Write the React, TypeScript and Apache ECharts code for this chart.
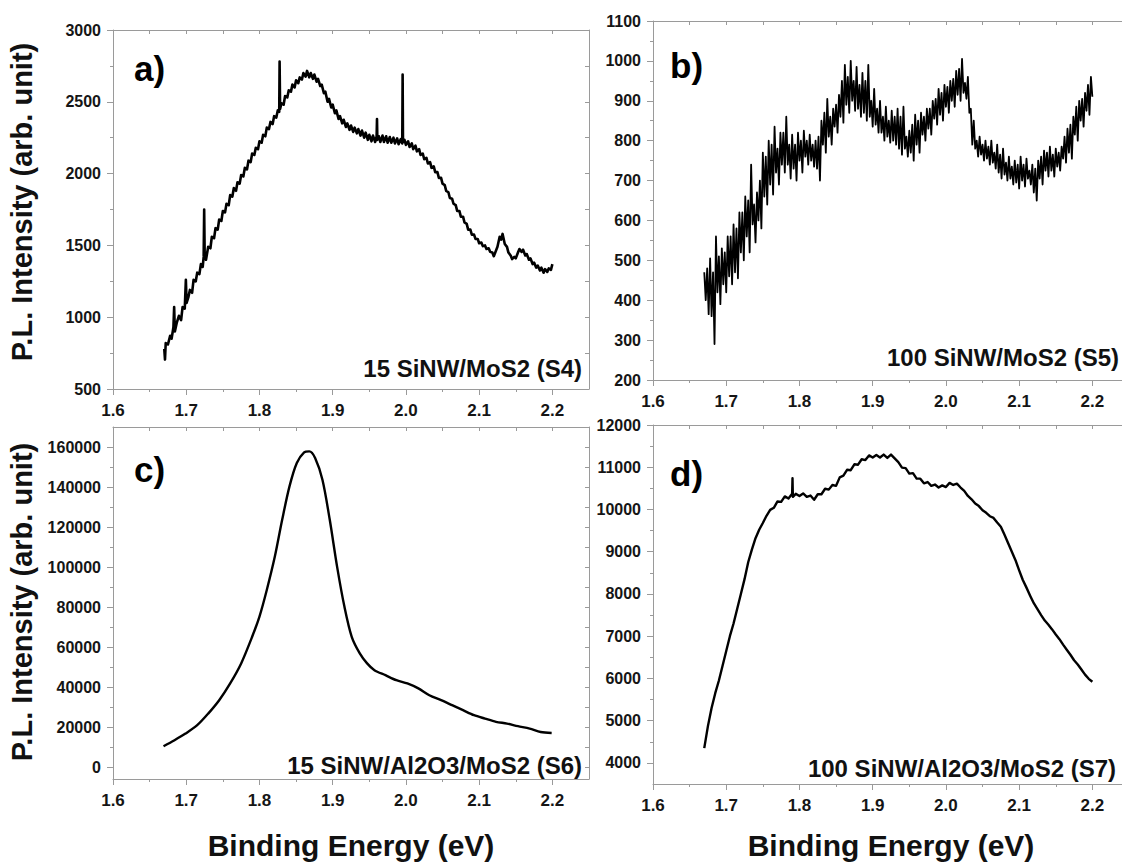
import React, { useEffect, useRef } from "react";
import * as echarts from "echarts";

// ---------- data ----------
const X_MAJOR = [1.6, 1.7, 1.8, 1.9, 2.0, 2.1, 2.2];
const X_MINOR = [1.65, 1.75, 1.85, 1.95, 2.05, 2.15];

const A_MAJOR = [500, 1000, 1500, 2000, 2500, 3000];
const A_MINOR = [750, 1250, 1750, 2250, 2750];
const B_MAJOR = [200, 300, 400, 500, 600, 700, 800, 900, 1000, 1100];
const B_MINOR = [250, 350, 450, 550, 650, 750, 850, 950, 1050];
const C_MAJOR = [0, 20000, 40000, 60000, 80000, 100000, 120000, 140000, 160000];
const C_MINOR = [10000, 30000, 50000, 70000, 90000, 110000, 130000, 150000];
const D_MAJOR = [4000, 5000, 6000, 7000, 8000, 9000, 10000, 11000, 12000];
const D_MINOR = [4500, 5500, 6500, 7500, 8500, 9500, 10500, 11500];

const PANEL_LABELS = ["a)", "b)", "c)", "d)"];
const SAMPLE_NAMES = [
  "15 SiNW/MoS2 (S4)",
  "100 SiNW/MoS2 (S5)",
  "15 SiNW/Al2O3/MoS2 (S6)",
  "100 SiNW/Al2O3/MoS2 (S7)",
];
const Y_TITLE = "P.L. Intensity (arb. unit)";
const X_TITLE = "Binding Energy (eV)";

// a) 15 SiNW/MoS2 (S4)
const SERIES_A: [number, number][] = [
  [1.67, 780], [1.671, 705], [1.672, 820], [1.675, 810], [1.678, 870], [1.68, 850],
  [1.6825, 930], [1.6835, 1070], [1.6845, 900], [1.687, 960], [1.69, 1010],
  [1.693, 980], [1.695, 1070], [1.698, 1060], [1.6995, 1260], [1.7005, 1100],
  [1.703, 1140], [1.705, 1190], [1.708, 1170], [1.71, 1260], [1.713, 1250],
  [1.715, 1310], [1.718, 1300], [1.72, 1370], [1.7225, 1350], [1.7238, 1420],
  [1.7245, 1750], [1.7252, 1430], [1.727, 1400], [1.73, 1490], [1.733, 1480],
  [1.735, 1560], [1.738, 1550], [1.74, 1620], [1.743, 1610], [1.745, 1680],
  [1.748, 1670], [1.75, 1740], [1.753, 1730], [1.755, 1790], [1.758, 1780],
  [1.76, 1850], [1.763, 1840], [1.765, 1900], [1.768, 1880], [1.77, 1940],
  [1.773, 1930], [1.775, 1990], [1.778, 1980], [1.78, 2040], [1.783, 2030],
  [1.785, 2090], [1.788, 2080], [1.79, 2140], [1.793, 2130], [1.795, 2180],
  [1.798, 2170], [1.8, 2225], [1.803, 2215], [1.805, 2270], [1.808, 2260],
  [1.81, 2320], [1.813, 2310], [1.815, 2360], [1.818, 2345], [1.82, 2400],
  [1.823, 2390], [1.825, 2440], [1.827, 2430], [1.8275, 2780], [1.8282, 2450],
  [1.83, 2490], [1.833, 2480], [1.835, 2540], [1.838, 2530], [1.84, 2580],
  [1.843, 2570], [1.845, 2620], [1.848, 2600], [1.85, 2650], [1.853, 2630],
  [1.855, 2670], [1.858, 2655], [1.86, 2700], [1.863, 2675], [1.865, 2715],
  [1.868, 2670], [1.87, 2700], [1.873, 2660], [1.875, 2690], [1.878, 2640],
  [1.88, 2660], [1.883, 2610], [1.885, 2620], [1.888, 2560], [1.89, 2570],
  [1.893, 2500], [1.895, 2520], [1.898, 2460], [1.9, 2480], [1.903, 2420],
  [1.905, 2440], [1.908, 2380], [1.91, 2400], [1.913, 2350], [1.915, 2375],
  [1.918, 2325], [1.92, 2350], [1.923, 2305], [1.925, 2335], [1.928, 2290],
  [1.93, 2320], [1.933, 2280], [1.935, 2310], [1.938, 2265], [1.94, 2300],
  [1.943, 2250], [1.945, 2285], [1.948, 2235], [1.95, 2270], [1.953, 2225],
  [1.955, 2265], [1.958, 2220], [1.96, 2260], [1.9605, 2380], [1.961, 2235],
  [1.963, 2260], [1.965, 2220], [1.968, 2265], [1.97, 2220], [1.973, 2260],
  [1.975, 2215], [1.978, 2255], [1.98, 2215], [1.983, 2250], [1.985, 2210],
  [1.988, 2245], [1.99, 2205], [1.993, 2240], [1.995, 2210], [1.9955, 2690],
  [1.996, 2220], [1.998, 2235], [2.0, 2200], [2.003, 2225], [2.005, 2185],
  [2.008, 2210], [2.01, 2170], [2.013, 2195], [2.015, 2155], [2.018, 2170],
  [2.02, 2130], [2.023, 2140], [2.025, 2100], [2.028, 2110], [2.03, 2070],
  [2.033, 2080], [2.035, 2040], [2.038, 2050], [2.04, 2010], [2.043, 2010],
  [2.045, 1970], [2.048, 1970], [2.05, 1930], [2.053, 1920], [2.055, 1880],
  [2.058, 1870], [2.06, 1830], [2.063, 1825], [2.065, 1790], [2.068, 1780],
  [2.07, 1740], [2.073, 1740], [2.075, 1700], [2.078, 1700], [2.08, 1660],
  [2.083, 1650], [2.085, 1610], [2.088, 1610], [2.09, 1575], [2.093, 1575],
  [2.095, 1545], [2.098, 1545], [2.1, 1515], [2.103, 1520], [2.105, 1495],
  [2.108, 1500], [2.11, 1475], [2.113, 1480], [2.115, 1455], [2.118, 1450],
  [2.12, 1425], [2.122, 1450], [2.125, 1490], [2.128, 1560], [2.13, 1540],
  [2.132, 1580], [2.135, 1510], [2.138, 1490], [2.14, 1450], [2.143, 1430],
  [2.145, 1405], [2.148, 1420], [2.15, 1410], [2.153, 1450], [2.155, 1475],
  [2.158, 1455], [2.16, 1470], [2.163, 1430], [2.165, 1440], [2.168, 1400],
  [2.17, 1410], [2.173, 1370], [2.175, 1380], [2.178, 1345], [2.18, 1360],
  [2.183, 1325], [2.185, 1345], [2.188, 1310], [2.19, 1335], [2.193, 1315],
  [2.195, 1340], [2.198, 1330], [2.2, 1370],
];

// b) 100 SiNW/MoS2 (S5)
const SERIES_B: [number, number][] = [
  [1.67, 470], [1.672, 400], [1.674, 480], [1.676, 365], [1.678, 505], [1.68, 360],
  [1.682, 470], [1.684, 290], [1.686, 560], [1.688, 420], [1.69, 510], [1.692, 390],
  [1.694, 530], [1.696, 440], [1.698, 520], [1.7, 420], [1.702, 560], [1.704, 460],
  [1.706, 560], [1.708, 440], [1.71, 590], [1.712, 470], [1.714, 580], [1.716, 455],
  [1.718, 620], [1.72, 520], [1.722, 620], [1.724, 500], [1.726, 660], [1.728, 560],
  [1.73, 650], [1.732, 520], [1.734, 740], [1.736, 590], [1.738, 640], [1.74, 545],
  [1.742, 670], [1.744, 600], [1.746, 700], [1.748, 580], [1.75, 770], [1.752, 660],
  [1.754, 760], [1.756, 640], [1.758, 800], [1.76, 690], [1.762, 790], [1.764, 665],
  [1.766, 835], [1.768, 720], [1.77, 780], [1.772, 690], [1.774, 820], [1.776, 740],
  [1.778, 820], [1.78, 720], [1.782, 860], [1.784, 740], [1.786, 790], [1.788, 705],
  [1.79, 815], [1.792, 730], [1.794, 790], [1.796, 700], [1.798, 820], [1.8, 750],
  [1.802, 800], [1.804, 720], [1.806, 825], [1.808, 760], [1.81, 800], [1.812, 740],
  [1.814, 815], [1.816, 750], [1.818, 790], [1.82, 735], [1.822, 800], [1.824, 730],
  [1.826, 810], [1.828, 700], [1.83, 850], [1.832, 790], [1.834, 870], [1.836, 770],
  [1.838, 905], [1.84, 810], [1.842, 860], [1.844, 790], [1.846, 880], [1.848, 835],
  [1.85, 890], [1.852, 820], [1.854, 915], [1.856, 860], [1.858, 950], [1.86, 845],
  [1.862, 990], [1.864, 890], [1.866, 960], [1.868, 870], [1.87, 1000], [1.872, 900],
  [1.874, 950], [1.876, 875], [1.878, 985], [1.88, 880], [1.882, 940], [1.884, 860],
  [1.886, 970], [1.888, 870], [1.89, 950], [1.892, 850], [1.894, 990], [1.896, 860],
  [1.898, 900], [1.9, 835], [1.902, 930], [1.904, 840], [1.906, 880], [1.908, 820],
  [1.91, 900], [1.912, 820], [1.914, 860], [1.916, 800], [1.918, 885], [1.92, 810],
  [1.922, 850], [1.924, 795], [1.926, 875], [1.928, 800], [1.93, 860], [1.932, 790],
  [1.934, 880], [1.936, 780], [1.938, 860], [1.94, 765], [1.942, 885], [1.944, 780],
  [1.946, 810], [1.948, 760], [1.95, 825], [1.952, 770], [1.954, 840], [1.956, 750],
  [1.958, 865], [1.96, 790], [1.962, 850], [1.964, 770], [1.966, 870], [1.968, 815],
  [1.97, 860], [1.972, 800], [1.974, 880], [1.976, 830], [1.978, 880], [1.98, 815],
  [1.982, 900], [1.984, 855], [1.986, 905], [1.988, 840], [1.99, 930], [1.992, 865],
  [1.994, 920], [1.996, 850], [1.998, 940], [2.0, 885], [2.002, 935], [2.004, 870],
  [2.006, 950], [2.008, 900], [2.01, 955], [2.012, 885], [2.014, 975], [2.016, 915],
  [2.018, 980], [2.02, 900], [2.022, 1005], [2.024, 920], [2.026, 945], [2.028, 905],
  [2.03, 960], [2.032, 870], [2.034, 880], [2.036, 790], [2.038, 850], [2.04, 780],
  [2.042, 800], [2.044, 760], [2.046, 810], [2.048, 765], [2.05, 790], [2.052, 750],
  [2.054, 800], [2.056, 755], [2.058, 785], [2.06, 740], [2.062, 800], [2.064, 745],
  [2.066, 770], [2.068, 730], [2.07, 790], [2.072, 720], [2.074, 765], [2.076, 705],
  [2.078, 780], [2.08, 715], [2.082, 745], [2.084, 700], [2.086, 760], [2.088, 705],
  [2.09, 735], [2.092, 690], [2.094, 750], [2.096, 695], [2.098, 740], [2.1, 680],
  [2.102, 760], [2.104, 700], [2.106, 740], [2.108, 685], [2.11, 755], [2.112, 705],
  [2.114, 725], [2.116, 690], [2.118, 740], [2.12, 670], [2.122, 730], [2.124, 650],
  [2.126, 750], [2.128, 705], [2.13, 760], [2.132, 690], [2.134, 775], [2.136, 725],
  [2.138, 770], [2.14, 710], [2.142, 785], [2.144, 725], [2.146, 765], [2.148, 710],
  [2.15, 780], [2.152, 735], [2.154, 770], [2.156, 725], [2.158, 785], [2.16, 755],
  [2.162, 810], [2.164, 745], [2.166, 830], [2.168, 770], [2.17, 840], [2.172, 755],
  [2.174, 860], [2.176, 815], [2.178, 885], [2.18, 800], [2.182, 900], [2.184, 850],
  [2.186, 905], [2.188, 835], [2.19, 920], [2.192, 875], [2.194, 940], [2.196, 865],
  [2.198, 960], [2.2, 910],
];

// c) 15 SiNW/Al2O3/MoS2 (S6)
const SERIES_C: [number, number][] = [
  [1.669, 10400], [1.684, 13400], [1.699, 16700], [1.715, 20900], [1.73, 26700],
  [1.745, 33400], [1.76, 41800], [1.775, 51800], [1.79, 65100], [1.8, 75200],
  [1.81, 88500], [1.821, 105200], [1.831, 123600], [1.841, 140300], [1.851, 152000],
  [1.861, 157300], [1.868, 157800], [1.876, 154500], [1.886, 143600], [1.896, 123600],
  [1.906, 100200], [1.916, 80200], [1.926, 65100], [1.937, 56800], [1.947, 51800],
  [1.957, 48400], [1.972, 45900], [1.987, 43400], [2.002, 41800], [2.017, 39300],
  [2.032, 35900], [2.048, 33400], [2.063, 30900], [2.078, 28400], [2.093, 25900],
  [2.108, 24200], [2.123, 22600], [2.138, 21700], [2.153, 20400], [2.169, 19200],
  [2.184, 17500], [2.199, 17000],
];

// d) 100 SiNW/Al2O3/MoS2 (S7)
const SERIES_D: [number, number][] = [
  [1.67, 4350], [1.675, 4870], [1.68, 5300], [1.685, 5650], [1.69, 5950], [1.695, 6300],
  [1.7, 6650], [1.705, 7000], [1.71, 7300], [1.715, 7650], [1.72, 8000], [1.725, 8350],
  [1.73, 8750], [1.735, 9050], [1.74, 9320], [1.745, 9520], [1.75, 9680], [1.755, 9850],
  [1.76, 9990], [1.765, 10040], [1.77, 10190], [1.775, 10180], [1.78, 10310], [1.785, 10260],
  [1.79, 10370], [1.7905, 10740], [1.791, 10300], [1.795, 10370], [1.8, 10320],
  [1.805, 10380], [1.81, 10300], [1.815, 10330], [1.82, 10230], [1.825, 10360],
  [1.83, 10360], [1.835, 10490], [1.84, 10470], [1.845, 10580], [1.85, 10560],
  [1.855, 10760], [1.86, 10800], [1.865, 10940], [1.87, 10930], [1.875, 11070],
  [1.88, 11060], [1.885, 11190], [1.89, 11170], [1.895, 11280], [1.9, 11230],
  [1.905, 11290], [1.91, 11230], [1.915, 11300], [1.92, 11220], [1.925, 11300],
  [1.93, 11210], [1.935, 11120], [1.94, 10990], [1.945, 10980], [1.95, 10850],
  [1.955, 10860], [1.96, 10730], [1.965, 10730], [1.97, 10620], [1.975, 10650],
  [1.98, 10560], [1.985, 10590], [1.99, 10520], [1.995, 10570], [2.0, 10530],
  [2.005, 10630], [2.01, 10580], [2.015, 10610], [2.02, 10520], [2.025, 10440],
  [2.03, 10320], [2.035, 10240], [2.04, 10140], [2.045, 10080], [2.05, 9980],
  [2.055, 9920], [2.06, 9840], [2.065, 9800], [2.07, 9690], [2.075, 9590],
  [2.08, 9400], [2.085, 9200], [2.09, 9000], [2.095, 8800], [2.1, 8560],
  [2.105, 8330], [2.11, 8150], [2.115, 7960], [2.12, 7780], [2.125, 7640],
  [2.13, 7500], [2.135, 7370], [2.14, 7270], [2.145, 7160], [2.15, 7040],
  [2.155, 6930], [2.16, 6800], [2.165, 6680], [2.17, 6560], [2.175, 6430],
  [2.18, 6330], [2.185, 6210], [2.19, 6090], [2.195, 5990], [2.2, 5920],
];

// ---------- layout / style ----------
const FONT = "'Liberation Sans', Arial, Helvetica, sans-serif";
const GREY = "#9a9a9a";
const X_MIN = 1.6;
const X_MAX = 2.25;

type Panel = {
  left: number; top: number; width: number; height: number;
  yMin: number; yMax: number; major: number[]; minor: number[];
  data: [number, number][]; lineWidth: number; smooth: number | boolean;
  label: string; name: string;
  labelX: number; labelY: number; nameX: number; nameY: number;
};

const PANELS: Panel[] = [
  { left: 113, top: 30, width: 476, height: 359, yMin: 500, yMax: 3000, major: A_MAJOR, minor: A_MINOR,
    data: SERIES_A, lineWidth: 2.6, smooth: false, label: PANEL_LABELS[0], name: SAMPLE_NAMES[0],
    labelX: 134, labelY: 68, nameX: 582, nameY: 368 },
  { left: 653, top: 21, width: 476, height: 359, yMin: 200, yMax: 1100, major: B_MAJOR, minor: B_MINOR,
    data: SERIES_B, lineWidth: 1.8, smooth: false, label: PANEL_LABELS[1], name: SAMPLE_NAMES[1],
    labelX: 670, labelY: 65, nameX: 1119, nameY: 357 },
  { left: 113, top: 427, width: 476, height: 352, yMin: -6000, yMax: 170000, major: C_MAJOR, minor: C_MINOR,
    data: SERIES_C, lineWidth: 2.4, smooth: 0.3, label: PANEL_LABELS[2], name: SAMPLE_NAMES[2],
    labelX: 134, labelY: 469, nameX: 582, nameY: 765 },
  { left: 653, top: 425, width: 476, height: 359, yMin: 3500, yMax: 12000, major: D_MAJOR, minor: D_MINOR,
    data: SERIES_D, lineWidth: 2.4, smooth: false, label: PANEL_LABELS[3], name: SAMPLE_NAMES[3],
    labelX: 670, labelY: 473, nameX: 1116, nameY: 768 },
];

function buildOption() {
  const grid: any[] = [];
  const xAxis: any[] = [];
  const yAxis: any[] = [];
  const series: any[] = [];
  const graphic: any[] = [];
  const line = { lineStyle: { color: GREY, width: 1 } };

  PANELS.forEach((p, i) => {
    grid.push({ left: p.left, top: p.top, width: p.width, height: p.height, containLabel: false, outerBoundsMode: "none" });
    const xBase = { type: "value", gridIndex: i, min: X_MIN, max: X_MAX, splitLine: { show: false } };
    const yBase = { type: "value", gridIndex: i, min: p.yMin, max: p.yMax, splitLine: { show: false } };
    // bottom main
    xAxis.push({
      ...xBase, position: "bottom",
      axisLine: { show: true, onZero: false, ...line },
      axisTick: { show: true, customValues: X_MAJOR, length: 6, inside: false, ...line },
      axisLabel: {
        show: true, customValues: X_MAJOR, margin: 13,
        formatter: (v: number) => v.toFixed(1),
        fontFamily: FONT, fontSize: 17, fontWeight: "bold", color: "#151515",
      },
    });
    // bottom minor ticks
    xAxis.push({
      ...xBase, position: "bottom",
      axisLine: { show: false, onZero: false },
      axisTick: { show: true, customValues: X_MINOR, length: 3, inside: false, ...line },
      axisLabel: { show: false },
    });
    // top mirror
    xAxis.push({
      ...xBase, position: "top",
      axisLine: { show: true, onZero: false, ...line },
      axisTick: { show: true, customValues: [...X_MAJOR, ...X_MINOR], length: 4, inside: true, ...line },
      axisLabel: { show: false },
    });
    // left main
    yAxis.push({
      ...yBase, position: "left",
      axisLine: { show: true, onZero: false, ...line },
      axisTick: { show: true, customValues: p.major, length: 6, inside: false, ...line },
      axisLabel: {
        show: true, customValues: p.major, margin: 12,
        formatter: (v: number) => String(v),
        fontFamily: FONT, fontSize: 16, fontWeight: "bold", color: "#151515",
      },
    });
    // left minor
    yAxis.push({
      ...yBase, position: "left",
      axisLine: { show: false, onZero: false },
      axisTick: { show: true, customValues: p.minor, length: 3, inside: false, ...line },
      axisLabel: { show: false },
    });
    // right mirror
    yAxis.push({
      ...yBase, position: "right",
      axisLine: { show: true, onZero: false, ...line },
      axisTick: { show: true, customValues: [...p.major, ...p.minor], length: 4, inside: true, ...line },
      axisLabel: { show: false },
    });

    series.push({
      type: "line",
      xAxisIndex: i * 3,
      yAxisIndex: i * 3,
      data: p.data,
      showSymbol: false,
      symbol: "none",
      silent: true,
      clip: true,
      smooth: p.smooth,
      lineStyle: { color: "#000", width: p.lineWidth, join: "round" },
    });

    graphic.push({
      type: "text", x: p.labelX, y: p.labelY, silent: true,
      style: { text: p.label, align: "left", verticalAlign: "middle", fontFamily: FONT, fontSize: 35, fontWeight: "bold", fill: "#000" },
    });
    graphic.push({
      type: "text", x: p.nameX, y: p.nameY, silent: true,
      style: { text: p.name, align: "right", verticalAlign: "middle", fontFamily: FONT, fontSize: 24, fontWeight: "bold", fill: "#111" },
    });
  });

  // axis titles
  [202, 602].forEach((cy) => {
    graphic.push({
      type: "text", x: 22, y: cy, rotation: Math.PI / 2, silent: true,
      style: { text: Y_TITLE, align: "center", verticalAlign: "middle", fontFamily: FONT, fontSize: 29, fontWeight: "bold", fill: "#111" },
    });
  });
  [351, 891].forEach((cx) => {
    graphic.push({
      type: "text", x: cx, y: 845, silent: true,
      style: { text: X_TITLE, align: "center", verticalAlign: "middle", fontFamily: FONT, fontSize: 30, fontWeight: "bold", fill: "#111" },
    });
  });

  return {
    animation: false,
    backgroundColor: "#ffffff",
    grid, xAxis, yAxis, series, graphic,
  };
}

export default function App() {
  const ref = useRef<HTMLDivElement>(null);
  useEffect(() => {
    if (!ref.current) return;
    const chart = echarts.init(ref.current, null, { renderer: "svg" });
    chart.setOption(buildOption() as any);
    return () => chart.dispose();
  }, []);
  return (
    <div
      ref={ref}
      style={{ position: "absolute", left: 0, top: 0, width: 1122, height: 862, background: "#fff" }}
    />
  );
}
